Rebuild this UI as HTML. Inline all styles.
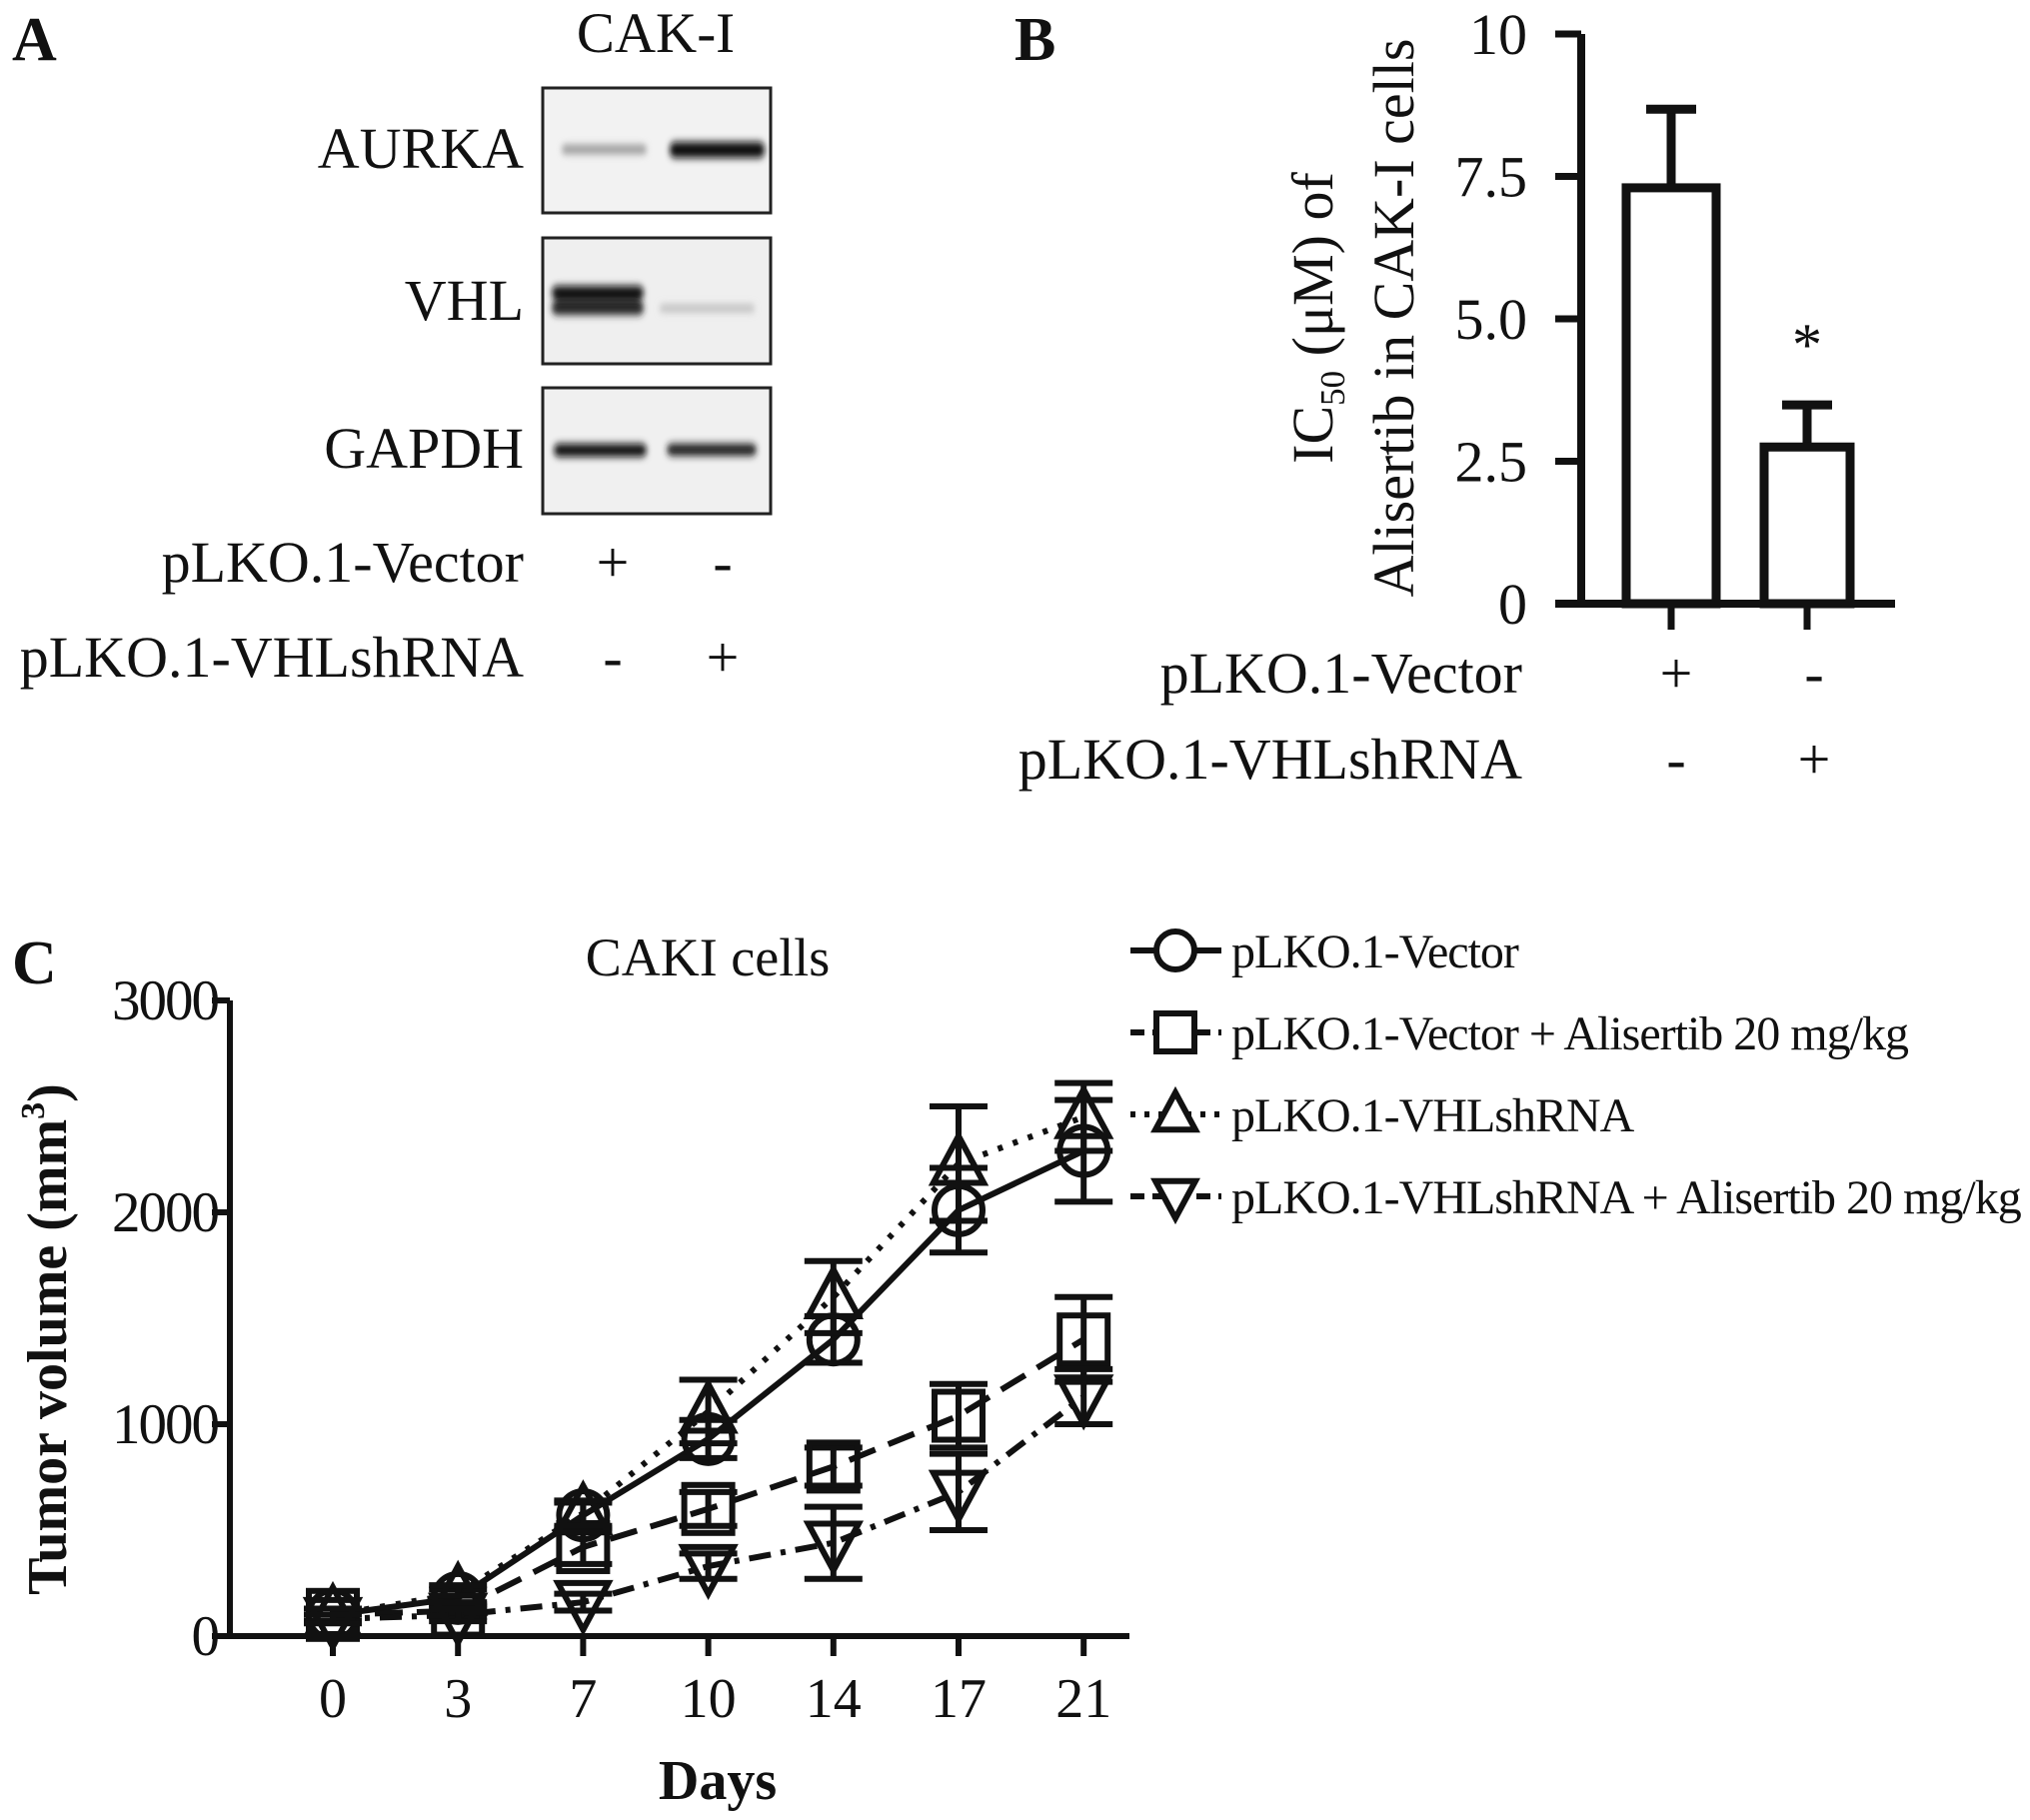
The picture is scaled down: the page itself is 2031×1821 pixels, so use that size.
<!DOCTYPE html>
<html><head><meta charset="utf-8">
<style>
html,body{margin:0;padding:0;background:#fff;}
svg{display:block;}
text{font-family:"Liberation Serif",serif;fill:#111;}
</style></head>
<body>
<svg id="fig" width="2031" height="1821" viewBox="0 0 2031 1821" xmlns="http://www.w3.org/2000/svg">
<defs>
<filter id="blur" x="-20%" y="-100%" width="140%" height="300%"><feGaussianBlur stdDeviation="3 4"/></filter>
</defs>
<!-- Panel A -->
<g>
<text x="12" y="60" font-size="62" font-weight="bold">A</text>
<text x="656" y="52" font-size="57" text-anchor="middle">CAK-I</text>
<rect x="543" y="88" width="228" height="125" fill="#f2f2f2" stroke="#222" stroke-width="3"/>
<rect x="543" y="238" width="228" height="126" fill="#efefef" stroke="#222" stroke-width="3"/>
<rect x="543" y="388" width="228" height="126" fill="#f0f0f0" stroke="#222" stroke-width="3"/>
<g filter="url(#blur)">
<rect x="562" y="145" width="85" height="9" rx="4" fill="#999"/>
<rect x="670" y="142" width="95" height="16" rx="6" fill="#111"/>
<rect x="552" y="286" width="92" height="14" rx="6" fill="#111"/>
<rect x="552" y="301" width="92" height="14" rx="6" fill="#222"/>
<rect x="660" y="305" width="95" height="7" rx="3" fill="#bbb"/>
<rect x="554" y="444" width="93" height="13" rx="6" fill="#111"/>
<rect x="667" y="444" width="90" height="12" rx="6" fill="#1a1a1a"/>
</g>
<text x="524" y="168" font-size="58" text-anchor="end">AURKA</text>
<text x="524" y="320" font-size="58" text-anchor="end">VHL</text>
<text x="524" y="468" font-size="58" text-anchor="end">GAPDH</text>
<text x="524" y="582" font-size="58" text-anchor="end">pLKO.1-Vector</text>
<text x="524" y="677" font-size="58" text-anchor="end">pLKO.1-VHLshRNA</text>
<text x="613" y="582" font-size="58" text-anchor="middle">+</text>
<text x="723" y="582" font-size="58" text-anchor="middle">-</text>
<text x="613" y="677" font-size="58" text-anchor="middle">-</text>
<text x="723" y="677" font-size="58" text-anchor="middle">+</text>
</g>
<!-- Panel B -->
<g id="panelB">
<text x="1015" y="60" font-size="62" font-weight="bold">B</text>
<text transform="translate(1333,318) rotate(-90)" font-size="58" text-anchor="middle">IC<tspan font-size="35" dy="12">50</tspan><tspan dy="-12"> (μM) of</tspan></text>
<text transform="translate(1414,318) rotate(-90)" font-size="58" text-anchor="middle">Alisertib in CAK-I cells</text>
<text x="1523" y="693" font-size="58" text-anchor="end">pLKO.1-Vector</text>
<text x="1523" y="779" font-size="58" text-anchor="end">pLKO.1-VHLshRNA</text>
<text x="1677" y="693" font-size="58" text-anchor="middle">+</text>
<text x="1815" y="693" font-size="58" text-anchor="middle">-</text>
<text x="1677" y="779" font-size="58" text-anchor="middle">-</text>
<text x="1815" y="779" font-size="58" text-anchor="middle">+</text>
</g>
<!-- Panel C -->
<g id="panelC">
<text x="12" y="984" font-size="62" font-weight="bold">C</text>
<text x="708" y="976" font-size="54" text-anchor="middle">CAKI cells</text>
<text transform="translate(66,1340) rotate(-90)" font-size="56" font-weight="bold" text-anchor="middle">Tumor volume (mm<tspan font-size="34" dy="-22">3</tspan><tspan dy="22">)</tspan></text>
<text x="718" y="1800" font-size="56" font-weight="bold" text-anchor="middle">Days</text>
</g>
</svg>
<script>
var NS='http://www.w3.org/2000/svg';
function mk(tag,attrs,parent){var e=document.createElementNS(NS,tag);for(var k in attrs)e.setAttribute(k,attrs[k]);parent.appendChild(e);return e;}

// ---- Panel B data ----
var bCategories=['Vector','VHLshRNA'];
var bValues=[7.3,2.75];
var bErrors=[1.38,0.74];
var bTicks=[0,2.5,5,7.5,10];
var bTickLabels=['0','2.5','5.0','7.5','10'];

// ---- Panel C data ----
var cDays=['0','3','7','10','14','17','21'];
var cTicks=[0,1000,2000,3000];
var cTickLabels=['0','1000','2000','3000'];
var cSeriesNames=['pLKO.1-Vector','pLKO.1-Vector + Alisertib 20 mg/kg','pLKO.1-VHLshRNA','pLKO.1-VHLshRNA + Alisertib 20 mg/kg'];
var vectorVals=[100,180,570,930,1400,2010,2290];
var vectorErr=[30,40,60,90,110,200,240];
var vectorAliVals=[100,120,420,600,800,1040,1400];
var vectorAliErr=[30,30,80,80,90,150,200];
var shrnaVals=[100,200,580,1060,1600,2230,2450];
var shrnaErr=[30,40,60,150,170,270,160];
var shrnaAliVals=[80,100,160,330,440,680,1130];
var shrnaAliErr=[20,30,40,60,170,180,130];

(function(){
  var g=document.getElementById('panelB');
  var y0=604,y1=34,vmax=10;
  function Y(v){return y0-(v/vmax)*(y0-y1);}
  var xs=[1672,1808],bw=[90,86];
  var ax=mk('line',{x1:1582,y1:Y(10),x2:1582,y2:y0+4,stroke:'#111','stroke-width':8},g);
  
  
  var xa=mk('line',{x1:1556,y1:y0,x2:1896,y2:y0,stroke:'#111','stroke-width':8},g);
  
  
  bTicks.forEach(function(t,i){
    var l=mk('line',{x1:1556,y1:Y(t),x2:1582,y2:Y(t),stroke:'#111','stroke-width':7},g);
    
    
    var tx=mk('text',{x:1528,y:Y(t)+20,'font-size':58,'text-anchor':'end'},g);
    tx.textContent=bTickLabels[i];
    
    
  });
  bValues.forEach(function(v,i){
    var cx=xs[i];
    var t=mk('line',{x1:cx,y1:y0,x2:cx,y2:630,stroke:'#111','stroke-width':7},g);
    
    
    var eb=mk('line',{x1:cx,y1:Y(v),x2:cx,y2:Y(v+bErrors[i]),stroke:'#111','stroke-width':9},g);
    
    
    var cap=mk('line',{x1:cx-25,y1:Y(v+bErrors[i]),x2:cx+25,y2:Y(v+bErrors[i]),stroke:'#111','stroke-width':9},g);
    
    
    var r=mk('rect',{x:cx-bw[i]/2,y:Y(v),width:bw[i],height:y0-Y(v),fill:'#fff',stroke:'#111','stroke-width':9},g);
    
    
  });
  var s=mk('text',{x:xs[1],y:Y(bValues[1]+bErrors[1])-40,'font-size':60,'text-anchor':'middle'},g);
  s.textContent='*';
  
  
})();

(function(){
  var g=document.getElementById('panelC');
  var y0=1637,y1=1001,vmax=3000,axX=230,x0=333,dx=125.2;
  function Y(v){return y0-(v/vmax)*(y0-y1);}
  function X(i){return x0+i*dx;}
  var ax=mk('line',{x1:axX,y1:y1,x2:axX,y2:y0+3,stroke:'#111','stroke-width':6},g);
  
  
  var xa=mk('line',{x1:axX,y1:y0,x2:1130,y2:y0,stroke:'#111','stroke-width':6},g);
  
  
  cTicks.forEach(function(t,i){
    var l=mk('line',{x1:axX-18,y1:Y(t),x2:axX,y2:Y(t),stroke:'#111','stroke-width':6},g);
    
    
    var tx=mk('text',{x:218,y:Y(t)+19,'font-size':57,'text-anchor':'end','letter-spacing':'-2'},g);
    tx.textContent=cTickLabels[i];
    
    
  });
  cDays.forEach(function(d,i){
    var l=mk('line',{x1:X(i),y1:y0,x2:X(i),y2:y0+20,stroke:'#111','stroke-width':6},g);
    
    
    var tx=mk('text',{x:X(i),y:1718,'font-size':56,'text-anchor':'middle'},g);
    tx.textContent=d;
    
    
  });
  var series=[
    {vals:vectorVals,err:vectorErr,dash:'',m:'circle',key:'vector'},
    {vals:vectorAliVals,err:vectorAliErr,dash:'28 14',m:'square',key:'vector-alisertib'},
    {vals:shrnaVals,err:shrnaErr,dash:'5 11',m:'triangle',key:'shrna'},
    {vals:shrnaAliVals,err:shrnaAliErr,dash:'22 10 5 10',m:'invtriangle',key:'shrna-alisertib'}
  ];
  function marker(type,cx,cy,r,parent){
    var e;
    if(type==='circle')e=mk('circle',{cx:cx,cy:cy,r:r},parent);
    else if(type==='square')e=mk('rect',{x:cx-r,y:cy-r,width:2*r,height:2*r},parent);
    else if(type==='triangle')e=mk('polygon',{points:(cx)+','+(cy-r*1.15)+' '+(cx+r*1.05)+','+(cy+r*0.8)+' '+(cx-r*1.05)+','+(cy+r*0.8)},parent);
    else e=mk('polygon',{points:(cx)+','+(cy+r*1.15)+' '+(cx+r*1.05)+','+(cy-r*0.8)+' '+(cx-r*1.05)+','+(cy-r*0.8)},parent);
    e.setAttribute('fill','none');e.setAttribute('stroke','#111');e.setAttribute('stroke-width','6');
    return e;
  }
  series.forEach(function(s){
    var sg=mk('g',{},g);
    
    
    var pts=s.vals.map(function(v,i){return X(i)+','+Y(v);}).join(' ');
    var pl=mk('polyline',{points:pts,fill:'none',stroke:'#111','stroke-width':6,'stroke-dasharray':s.dash},sg);
    
    
    s.vals.forEach(function(v,i){
      var e=s.err[i];
      var eb=mk('path',{d:'M'+X(i)+','+Y(v-e)+'V'+Y(v+e)+'M'+(X(i)-29)+','+Y(v+e)+'h58M'+(X(i)-29)+','+Y(v-e)+'h58',stroke:'#111','stroke-width':6,fill:'none'},sg);
      
      
      var m=marker(s.m,X(i),Y(v),24,sg);
      
      
    });
  });
  var ly=[951,1033,1115,1197];
  series.forEach(function(s,i){
    var lg=mk('g',{},g);
    
    
    var l=mk('line',{x1:1131,y1:ly[i],x2:1222,y2:ly[i],stroke:'#111','stroke-width':6,'stroke-dasharray':s.dash?'14 8':''},lg);
    if(s.key==='shrna')l.setAttribute('stroke-dasharray','5 9');
    
    
    var m=marker(s.m,1176,ly[i],19,lg);
    m.setAttribute('fill','#fff');
    
    
    var t=mk('text',{x:1232,y:ly[i]+17,'font-size':48,'letter-spacing':'-1'},lg);
    t.textContent=cSeriesNames[i];
    
    
  });
})();
</script>
</body></html>
